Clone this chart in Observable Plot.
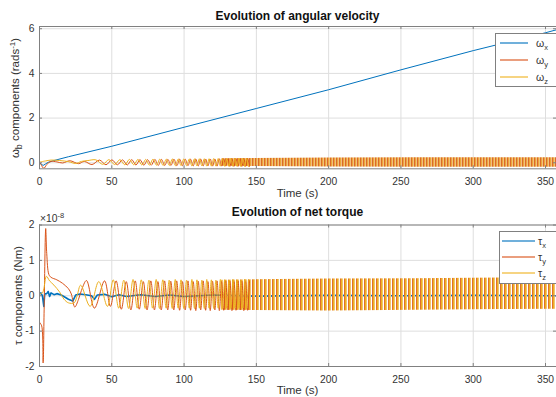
<!DOCTYPE html>
<html><head><meta charset="utf-8">
<script src="https://cdn.jsdelivr.net/npm/d3@7"></script>
<script src="https://cdn.jsdelivr.net/npm/@observablehq/plot@0.6"></script>
<style>
body{margin:0;background:#fff;font-family:"Liberation Sans",Arial,sans-serif;}
#wrap{position:relative;width:556px;height:397px;overflow:hidden;}
#wrap > svg{position:absolute;left:0;}
</style></head><body><div id="wrap"></div>
<script>
// ---------- data ----------
const xTicks = [0, 50, 100, 150, 200, 250, 300, 350];
const wTicks = [0, 2, 4, 6];
const tauTicks = [-2, -1, 0, 1, 2];

// omega_x (rad/s)
const wxT = [0,1,2.5,4,6,10,20,50,100,150,200,250,300,350,358];
const wxV = [0,-0.05,-0.12,-0.06,0.02,0.1,0.27,0.74,1.59,2.43,3.27,4.16,5.02,5.82,5.96];

// omega_y (rad/s) – visible oscillation peaks
const wyT = [0,1,3,5,8,12,16,21,27,31,36.3,41.5,46,50.1,53.9,57.4,60.7,63.8,66.7,69.5,72.2,74.8,77.3,79.8,82.1,84.4,86.6,88.8,90.9,93,95,97,98.9,100.8,102.7,104.5,106.3,108.1,109.8,111.5,113.2,114.9,116.5,118.1,119.7,121.3,122.8,124.4,125.9,127.4,128.8,130.3,131.7,133.1,134.5,135.9,137.3,138.7,140,141.3,142.6,143.9,145.2];
const wyV = [0,-0.08,-0.25,-0.08,0.06,0.04,-0.01,0.09,-0.04,0.06,
  -0.08,0.12,-0.09,0.13,-0.09,0.13,-0.10,0.14,-0.10,0.14,-0.11,0.14,-0.11,0.15,-0.12,0.15,-0.12,0.15,-0.12,0.16,
  -0.13,0.16,-0.13,0.16,-0.13,0.16,-0.14,0.17,-0.14,0.17,-0.14,0.17,-0.14,0.17,-0.15,0.17,-0.15,0.18,-0.15,0.18,
  -0.15,0.18,-0.16,0.18,-0.16,0.18,-0.16,0.18,-0.16,0.19,-0.16,0.19,-0.17];

// omega_z (rad/s)
const wzT = [0,4,8,14,20,25,29,33.5,39,43.8,48,52,55.6,59,62.2,65.2,68.1,70.8,73.5,76,78.5,81,83.2,85.5,87.7,89.8,91.9,94,96,97.9,99.8,101.7,103.6,105.4,107.2,108.9,110.6,112.3,114,115.7,117.3,118.9,120.5,122,123.6,125.1,126.6,128.1,129.5,131,132.4,133.8,135.2,136.6,138,139.3,140.6,142,143.2,144.5];
const wzV = [0.03,0.08,0.12,0.1,0.05,-0.03,0.06,0.1,
  0.13,-0.07,0.14,-0.08,0.14,-0.09,0.15,-0.09,0.15,-0.10,0.15,-0.11,0.16,-0.11,0.16,-0.12,0.16,-0.12,0.17,-0.13,
  0.17,-0.13,0.17,-0.13,0.17,-0.14,0.18,-0.14,0.18,-0.14,0.18,-0.15,0.18,-0.15,0.19,-0.15,0.19,-0.15,0.19,-0.16,
  0.19,-0.16,0.2,-0.16,0.2,-0.16,0.2,-0.17,0.2,-0.17,0.2,-0.17];

// dense oscillation band of omega_y / omega_z
const wBandT = [126, 200, 260, 320, 358];
const wBandHi = [0.18, 0.21, 0.22, 0.22, 0.22];
const wBandLo = [-0.16, -0.19, -0.2, -0.2, -0.2];

// tau_x (x 1e-8 Nm)
const txT = [0,1,2,3,3.6,5,6,7,8,10,12,15,18,20,23,25,28,32,36,38,40,45,50,55,60,70,80,90,100,120,150,200,250,300,358];
const txV = [0.05,0.08,0.0,-0.3,0.05,0.06,0.12,-0.02,0.08,0.03,0.06,0.02,-0.05,-0.1,-0.15,0.02,0.05,0.03,0.0,-0.1,0.02,0.04,-0.03,0.03,-0.02,0.03,-0.02,0.02,-0.02,0.02,-0.01,0.01,0.0,0.01,0.0];

// tau_y (x 1e-8 Nm)
const tyT = [0,1.5,2.5,3.2,4.3,5,6.5,8,12,16,20,22,24.4,27,29,32.5,38,45,49,
  53,56.6,60,63.2,66.2,69,71.8,74.4,77,79.5,81.9,84.2,86.5,88.7,90.8,92.9,94.9,96.9,98.9,100.8,102.7,104.5,106.3,108.1,109.8,111.5,113.2,114.9,116.5,118.1,119.7,121.3,122.8,124.4,125.9,127.4,128.8,130.3,131.7,133.1,134.5,135.9,137.3,138.7,140,141.3,142.6,143.9,145.2];
const tyV = [-0.75,-0.85,-1.9,-0.4,1.9,1.2,0.6,0.52,0.45,0.35,0.2,0.05,-0.32,-0.1,0.15,0.43,-0.35,0.42,-0.3,
  0.42,-0.38,0.4,-0.4,0.42,-0.38,0.4,-0.4,0.42,-0.4,0.4,-0.4,0.42,-0.4,0.41,-0.4,0.42,-0.41,0.4,-0.4,
  0.42,-0.41,0.4,-0.42,0.41,-0.4,0.42,-0.41,0.4,-0.42,0.41,-0.4,0.42,-0.42,0.4,-0.41,0.42,-0.4,0.41,-0.42,
  0.4,-0.41,0.42,-0.4,0.41,-0.42,0.4,-0.41,0.42];

// tau_z (x 1e-8 Nm)
const tzT = [0,2,3,4.8,7,10,14,17,20,24,26,28.5,35,41,47,
  51,54.8,58.3,61.6,64.7,67.6,70.4,73.1,75.7,78.2,80.7,83,85.3,87.6,89.7,91.8,93.9,95.9,97.9,99.8,101.7,103.6,105.4,107.2,108.9,110.6,112.3,114,115.7,117.3,118.9,120.5,122,123.6,125.1,126.6,128.1,129.5,131,132.4,133.8,135.2,136.6,138,139.3,140.6,142,143.2,144.5];
const tzV = [0.05,0.08,0.2,0.55,0.42,0.3,0.1,-0.1,-0.2,-0.2,0.0,0.3,-0.3,0.4,-0.3,
  0.45,-0.35,0.44,-0.36,0.46,-0.35,0.45,-0.36,0.44,-0.35,0.46,-0.36,0.45,-0.35,0.44,-0.36,0.46,-0.35,0.45,-0.36,
  0.44,-0.35,0.46,-0.36,0.45,-0.35,0.44,-0.36,0.46,-0.35,0.45,-0.36,0.44,-0.35,0.46,-0.36,0.45,-0.35,0.44,-0.36,
  0.46,-0.35,0.45,-0.36,0.44,-0.35,0.46,-0.36,0.45];

// dense oscillation band of tau_y / tau_z
const tBandT = [126, 200, 260, 320, 358];
const tBandHi = [0.44, 0.47, 0.48, 0.5, 0.5];
const tBandLo = [-0.41, -0.43, -0.41, -0.39, -0.38];

// ---------- styling ----------
const C = {x: "#0072BD", y: "#D95319", z: "#EDB120"};
const GRID = "#dedede", FRAME = "#808080", TXT = "#333";
const W = 556, ML = 39, MR = 0;
const xDomain = [0, 357.6];
const ns = "http://www.w3.org/2000/svg";

const pts = (T, V) => T.map((t, i) => ({t, v: V[i]}));
const band = (T, H, L) => T.map((t, i) => ({t, hi: H[i], lo: L[i]}));

function panel({height, mt, mb, yDomain, yTicks, series, bandData, blueWidth, patId, patCols}) {
  const fh = height - mt - mb, fw = W - ML - MR;
  const tickStyle = {stroke: FRAME, strokeWidth: 1};
  const svg = Plot.plot({
    width: W, height, marginLeft: ML, marginRight: MR, marginTop: mt, marginBottom: mb,
    x: {domain: xDomain},
    y: {domain: yDomain},
    style: {fontFamily: '"Liberation Sans", Arial, sans-serif', fontSize: "10.3px", color: TXT, background: "transparent", overflow: "visible"},
    marks: [
      Plot.gridX(xTicks, {stroke: GRID, strokeOpacity: 1}),
      Plot.gridY(yTicks, {stroke: GRID, strokeOpacity: 1}),
      Plot.line(series[0], {x: "t", y: "v", stroke: C.x, strokeWidth: blueWidth, clip: true}),
      Plot.areaY(bandData, {x: "t", y1: "lo", y2: "hi", fill: `url(#${patId})`}),
      Plot.line(series[1], {x: "t", y: "v", stroke: C.y, strokeWidth: 1, curve: "catmull-rom", clip: true}),
      Plot.line(series[2], {x: "t", y: "v", stroke: C.z, strokeWidth: 1, curve: "catmull-rom", clip: true}),
      Plot.frame({stroke: FRAME, strokeWidth: 1}),
      Plot.tickX(xTicks, {x: d => d, ...tickStyle, insetTop: fh - 3}),
      Plot.tickX(xTicks, {x: d => d, ...tickStyle, insetBottom: fh - 3}),
      Plot.tickY(yTicks, {y: d => d, ...tickStyle, insetRight: fw - 3}),
      Plot.tickY(yTicks, {y: d => d, ...tickStyle, insetLeft: fw - 3}),
      Plot.axisX(xTicks, {tickSize: 0, tickPadding: 9, label: null, tickFormat: d => String(d), fill: TXT}),
      Plot.axisY(yTicks, {tickSize: 0, tickPadding: 5, label: null, tickFormat: d => String(d), fill: TXT})
    ]
  });
  // striped fill imitating densely packed oscillation strokes
  const defs = document.createElementNS(ns, "defs");
  defs.innerHTML = `<pattern id="${patId}" patternUnits="userSpaceOnUse" width="${patCols.length}" height="20">` +
    patCols.map((c, i) => `<rect x="${i}" y="0" width="1" height="20" fill="${c}"/>`).join("") + `</pattern>`;
  svg.insertBefore(defs, svg.firstChild);
  return svg;
}

const wrap = document.getElementById("wrap");

const topSvg = panel({
  height: 199, mt: 26, mb: 30.7, yDomain: [-0.27, 6.1], yTicks: wTicks,
  series: [pts(wxT, wxV), pts(wyT, wyV), pts(wzT, wzV)],
  bandData: band(wBandT, wBandHi, wBandLo), blueWidth: 1,
  patId: "oscTop", patCols: ["#DB6A2A", "#EBA63A", "#F1C27E"]
});
topSvg.style.top = "0px";
wrap.appendChild(topSvg);

const botSvg = panel({
  height: 198, mt: 25.5, mb: 31, yDomain: [-2, 2], yTicks: tauTicks,
  series: [pts(txT, txV), pts(tyT, tyV), pts(tzT, tzV)],
  bandData: band(tBandT, tBandHi, tBandLo), blueWidth: 1.6,
  patId: "oscBot", patCols: ["#E0702C", "#EDB120", "#F2C470", "none"]
});
botSvg.style.top = "199px";
wrap.appendChild(botSvg);

// ---------- titles, axis labels, legends ----------
const ov = document.createElementNS(ns, "svg");
ov.setAttribute("width", W); ov.setAttribute("height", 397);
ov.style.cssText = "position:absolute;left:0;top:0;pointer-events:none;font-family:'Liberation Sans',Arial,sans-serif;";
const legendRow = (x1, x2, y, color, tx, sym, sub) =>
  `<rect x="${x1}" y="${y - 0.75}" width="${x2 - x1}" height="1.5" fill="${color}" fill-opacity="0.75"/>` +
  `<text x="${tx}" y="${y + 3.5}" font-size="10.5" fill="${TXT}">${sym}<tspan dy="3" font-size="7.5">${sub}</tspan></text>`;
const subs = ["x", "y", "z"], cols = [C.x, C.y, C.z];
ov.innerHTML = `
  <text x="297.5" y="20" text-anchor="middle" font-size="12" font-weight="bold" fill="#111">Evolution of angular velocity</text>
  <text x="297.5" y="196.5" text-anchor="middle" font-size="11.5" fill="${TXT}">Time (s)</text>
  <text transform="translate(19,98) rotate(-90)" text-anchor="middle" font-size="11.5" fill="${TXT}">ω<tspan dy="3" font-size="9">b</tspan><tspan dy="-3" font-size="11.5"> components (rads</tspan><tspan dy="-4.5" font-size="8">-1</tspan><tspan dy="4.5" font-size="11.5">)</tspan></text>
  <text x="297.5" y="216" text-anchor="middle" font-size="12" font-weight="bold" fill="#111">Evolution of net torque</text>
  <text x="40" y="221.5" font-size="10.3" fill="${TXT}">×10<tspan dy="-4" font-size="7.5">-8</tspan></text>
  <text x="297.5" y="393.5" text-anchor="middle" font-size="11.5" fill="${TXT}">Time (s)</text>
  <text transform="translate(21.5,295.5) rotate(-90)" text-anchor="middle" font-size="11.5" fill="${TXT}">τ components (Nm)</text>
  <rect x="495.5" y="33.5" width="62" height="53" fill="#fff" stroke="${FRAME}"/>
  ${subs.map((s, i) => legendRow(500, 528, 43 + i * 17, cols[i], 536, "ω", s)).join("")}
  <rect x="499.5" y="231.5" width="58" height="52" fill="#fff" stroke="${FRAME}"/>
  ${subs.map((s, i) => legendRow(502, 535, 241 + i * 16, cols[i], 538, "τ", s)).join("")}
`;
wrap.appendChild(ov);
</script></body></html>
